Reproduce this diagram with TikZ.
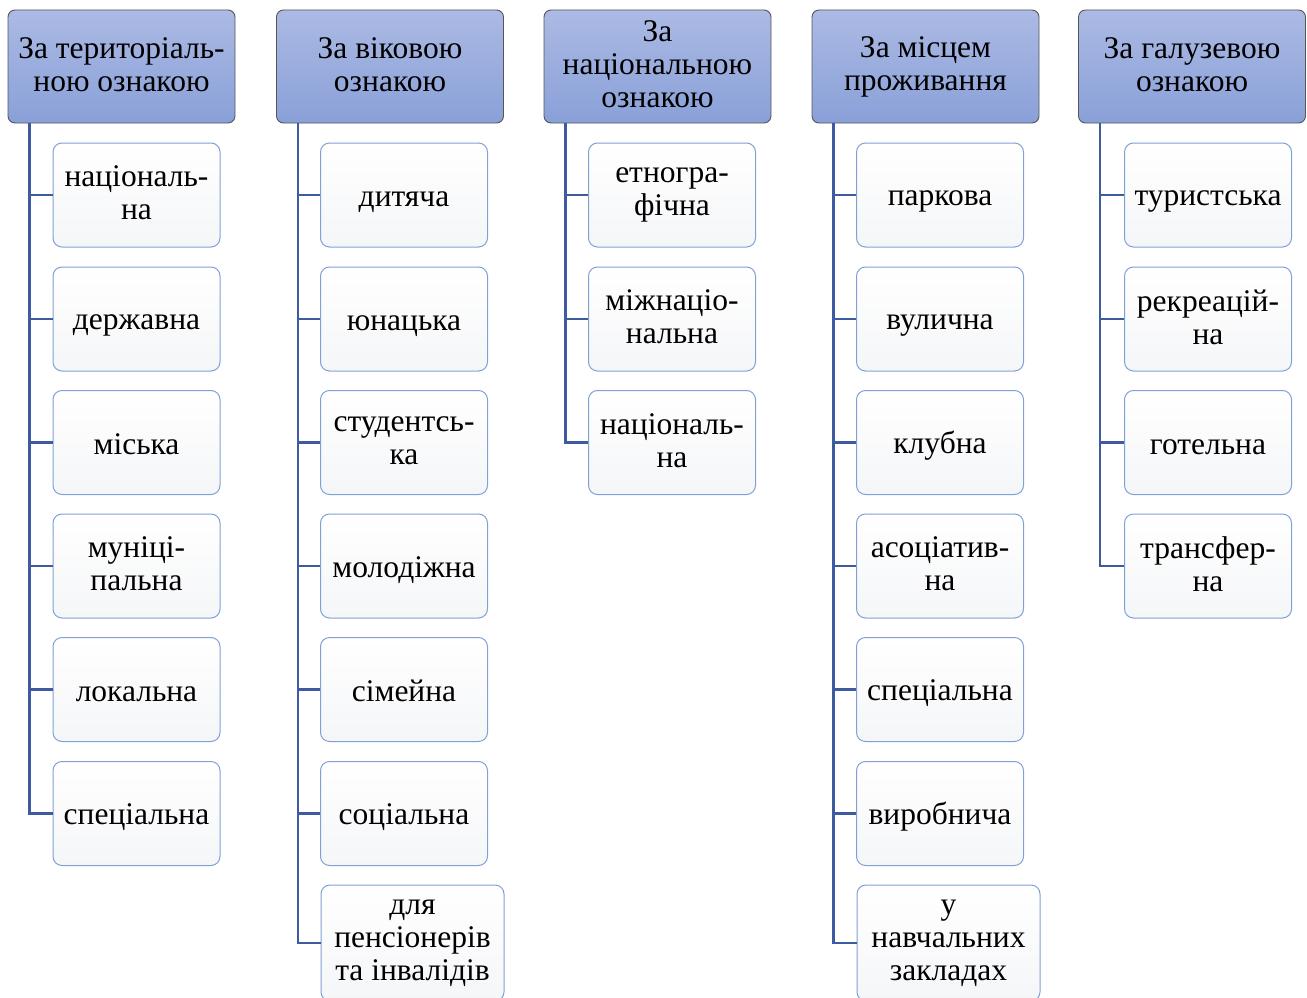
\documentclass[tikz,border=0pt]{standalone}
\usepackage{fontspec}
\setmainfont{Liberation Serif}
\definecolor{hdrtop}{RGB}{172,186,228}
\definecolor{hdrbot}{RGB}{137,160,216}
\definecolor{hdrline}{RGB}{85,85,90}
\definecolor{itmline}{RGB}{128,160,214}
\definecolor{itmbot}{RGB}{245,246,248}
\definecolor{connc}{RGB}{62,90,160}
\newcommand{\topstrut}{\rule{0pt}{28.5pt}}
\newcommand{\botstrut}{\rule[-4.5pt]{0pt}{4.5pt}}
\tikzset{
  txt/.style={font=\fontsize{31.5}{33}\selectfont, align=center, inner sep=0pt,
    execute at begin node=\topstrut, execute at end node=\botstrut},
  hdr/.style={txt, draw=hdrline, line width=0.9pt, rounded corners=7pt,
    top color=hdrtop, bottom color=hdrbot, minimum width=227pt, minimum height=113pt},
  itm/.style={txt, draw=itmline, line width=1pt, rounded corners=9pt,
    top color=white, bottom color=itmbot, minimum width=167pt, minimum height=104pt},
  itmbig/.style={itm, minimum width=183pt, minimum height=116pt},
  conn/.style={draw=connc, line width=2.2pt},
}
\begin{document}
\begin{tikzpicture}[x=1pt,y=-1pt]
\useasboundingbox (0,0) rectangle (1307,998);
% headers
\node[hdr] (h1) at (121.5,66.5) {За територіаль-\\ною ознакою};
\node[hdr] (h2) at (390,66.5) {За віковою\\ознакою};
\node[hdr] (h3) at (657.5,66.5) {За\\національною\\ознакою};
\node[hdr] (h4) at (925.5,66.5) {За місцем\\проживання};
\node[hdr] (h5) at (1192,66.5) {За галузевою\\ознакою};
% column 1
\node[itm] (a1) at (136.5,195) {національ-\\на};
\node[itm] (a2) at (136.5,319) {державна};
\node[itm] (a3) at (136.5,442.5) {міська};
\node[itm] (a4) at (136.5,566) {муніці-\\пальна};
\node[itm] (a5) at (136.5,689.5) {локальна};
\node[itm] (a6) at (136.5,813.5) {спеціальна};
% column 2
\node[itm] (b1) at (404,195) {дитяча};
\node[itm] (b2) at (404,319) {юнацька};
\node[itm] (b3) at (404,442.5) {студентсь-\\ка};
\node[itm] (b4) at (404,566) {молодіжна};
\node[itm] (b5) at (404,689.5) {сімейна};
\node[itm] (b6) at (404,813.5) {соціальна};
\node[itmbig] (b7) at (412.5,943) {для\\пенсіонерів\\та інвалідів};
% column 3
\node[itm] (c1) at (672,195) {етногра-\\фічна};
\node[itm] (c2) at (672,319) {міжнаціо-\\нальна};
\node[itm] (c3) at (672,442.5) {національ-\\на};
% column 4
\node[itm] (d1) at (940,195) {паркова};
\node[itm] (d2) at (940,319) {вулична};
\node[itm] (d3) at (940,442.5) {клубна};
\node[itm] (d4) at (940,566) {асоціатив-\\на};
\node[itm] (d5) at (940,689.5) {спеціальна};
\node[itm] (d6) at (940,813.5) {виробнича};
\node[itmbig] (d7) at (948.5,943) {у\\навчальних\\закладах};
% column 5
\node[itm] (e1) at (1208,195) {туристська};
\node[itm] (e2) at (1208,319) {рекреацій-\\на};
\node[itm] (e3) at (1208,442.5) {готельна};
\node[itm] (e4) at (1208,566) {трансфер-\\на};
% connectors
\foreach \h/\list in {h1/{a1,a2,a3,a4,a5,a6},h2/{b1,b2,b3,b4,b5,b6,b7},h3/{c1,c2,c3},h4/{d1,d2,d3,d4,d5,d6,d7},h5/{e1,e2,e3,e4}}{
  \foreach \c in \list {
    \draw[conn] ([xshift=22pt]\h.south west) |- (\c.west);
  }
}
\end{tikzpicture}
\end{document}
